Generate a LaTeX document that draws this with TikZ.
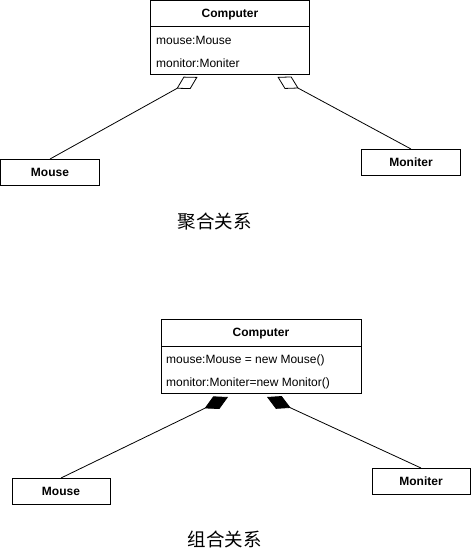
\documentclass[tikz,border=0pt]{standalone}
\usepackage{fontspec}
\setmainfont{Liberation Sans}
\newfontfamily\cjk{Noto Sans CJK SC}
\usetikzlibrary{arrows.meta}
\tikzset{
  box/.style={draw=black, line width=1pt, fill=white, inner sep=0pt, outer sep=0pt,
              anchor=north west, text height=8.5pt, text depth=0pt,
              font=\fontsize{12}{14}\selectfont\bfseries},
  attr/.style={anchor=west, inner sep=0pt, font=\fontsize{12}{14}\selectfont},
  caption/.style={inner sep=0pt, font=\cjk\fontsize{18.5}{20}\selectfont},
  link/.style={line width=0.8pt},
  agg/.style={link, -{Diamond[open, length=24pt, width=14pt, line width=0.8pt]}},
  comp/.style={link, -{Diamond[length=26pt, width=14pt]}},
}
\begin{document}
\begin{tikzpicture}[x=1pt, y=-1pt]
\useasboundingbox (0,0) rectangle (471,551);

% ---------- aggregation ----------
\node[box, minimum width=159pt, minimum height=26pt] (c1h) at (150.5,0.5) {Computer};
\node[box, minimum width=159pt, minimum height=48pt] (c1b) at (c1h.south west) {};
\node[attr] (c1a) at (156,40) {mouse:Mouse};
\node[attr] (c1c) at (156,63) {monitor:Moniter};

\node[box, minimum width=99pt, minimum height=26pt] (m1) at (0.5,159) {Mouse};
\node[box, minimum width=99pt, minimum height=26pt] (n1) at (361.5,149) {Moniter};

\coordinate (t1l) at (197.5,77);
\coordinate (t1r) at (277.5,77);
\draw[agg] (m1.north) -- (t1l);
\draw[agg] (n1.north) -- (t1r);

\node[caption] (cap1) at (214.5,221.5) {聚合关系};

% ---------- composition ----------
\node[box, minimum width=200pt, minimum height=27pt] (c2h) at (161,319) {Computer};
\node[box, minimum width=200pt, minimum height=47pt] (c2b) at (c2h.south west) {};
\node[attr] (c2a) at (166,360) {mouse:Mouse = new Mouse()};
\node[attr] (c2c) at (166,383) {monitor:Moniter=new Monitor()};

\node[box, minimum width=98pt, minimum height=26pt] (m2) at (12,478) {Mouse};
\node[box, minimum width=98pt, minimum height=26pt] (n2) at (372,468) {Moniter};

\coordinate (t2l) at (228,397);
\coordinate (t2r) at (267,397);
\draw[comp] (m2.north) -- (t2l);
\draw[comp] (n2.north) -- (t2r);

\node[caption] (cap2) at (224.5,539.5) {组合关系};
\end{tikzpicture}
\end{document}
